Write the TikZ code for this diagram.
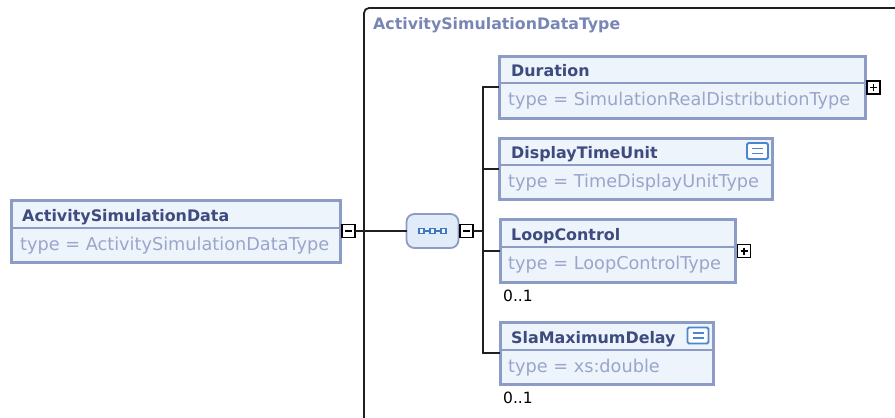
\documentclass[tikz,border=0pt]{standalone}
\usepackage{fontspec}
\setmainfont{DejaVu Sans}
\definecolor{boxedge}{HTML}{8D9CC7}
\definecolor{boxfill}{HTML}{EEF4FC}
\definecolor{namecol}{HTML}{3D4B7F}
\definecolor{typecol}{HTML}{9AA5C9}
\definecolor{ctcol}{HTML}{7886B5}
\definecolor{seqfill}{HTML}{E2ECF8}
\definecolor{dotcol}{HTML}{3D78C0}
\definecolor{docedge}{HTML}{4C86CC}
\definecolor{linecol}{HTML}{202020}
\tikzset{
  elbox/.style={draw=boxedge, fill=boxfill, line width=3pt, inner sep=0pt, outer sep=0pt, anchor=north west},
  divline/.style={draw=boxedge, line width=1.8pt},
  nametext/.style={font=\fontsize{15.9pt}{18pt}\selectfont\bfseries, text=namecol, anchor=base west, inner sep=0pt},
  typetext/.style={font=\fontsize{17.7pt}{20pt}\selectfont, text=typecol, anchor=base west, inner sep=0pt},
  multext/.style={font=\fontsize{15.5pt}{18pt}\selectfont, text=black, anchor=base west, inner sep=0pt},
  cttitle/.style={font=\fontsize{15.8pt}{18pt}\selectfont\bfseries, text=ctcol, anchor=base west, inner sep=0pt},
  conn/.style={draw=linecol, line width=2pt},
  cont/.style={draw=linecol, line width=1.8pt},
  togbase/.style={draw=black, fill=white, line width=1.8pt, minimum size=13pt, inner sep=0pt, outer sep=0pt},
  togminus/.style={togbase, path picture={
      \draw[line width=1.6pt] ([xshift=3.2pt]path picture bounding box.west) -- ([xshift=-3.2pt]path picture bounding box.east);}},
  togplus/.style={togbase, path picture={
      \draw[line width=1.6pt] ([xshift=3pt]path picture bounding box.west) -- ([xshift=-3pt]path picture bounding box.east);
      \draw[line width=1.6pt] ([yshift=-3pt]path picture bounding box.north) -- ([yshift=3pt]path picture bounding box.south);}},
  docicon/.style={draw=docedge, fill=white, line width=1.8pt, rounded corners=1.5pt, minimum width=21pt, minimum height=16pt, inner sep=0pt, outer sep=0pt,
    path picture={
      \draw[docedge, line width=1.4pt] ([xshift=5pt,yshift=2.5pt]path picture bounding box.west) -- ([xshift=-5pt,yshift=2.5pt]path picture bounding box.east);
      \draw[docedge, line width=1.4pt] ([xshift=5pt,yshift=-2.5pt]path picture bounding box.west) -- ([xshift=-5pt,yshift=-2.5pt]path picture bounding box.east);}},
  seqbox/.style={draw=boxedge, fill=seqfill, line width=1.8pt, rounded corners=8pt, minimum width=52pt, minimum height=34pt, inner sep=0pt, outer sep=0pt},
}
\begin{document}
\begin{tikzpicture}[x=1pt, y=-1pt]
\useasboundingbox (0,0) rectangle (895,418);

% complex type container
\draw[cont, rounded corners=5pt] (900,8) -- (364,8) -- (364,425);
\node[cttitle] (ctname) at (373,29) {ActivitySimulationDataType};

% root element
\node[elbox, minimum width=329pt, minimum height=62pt] (asd) at (11,200) {};
\draw[divline] (asd.north west) ++(0,28) -- ++(329,0);
\node[nametext] (asdname) at (22,221.5) {ActivitySimulationData};
\node[typetext] (asdtype) at (20,250.5) {type = ActivitySimulationDataType};
\node[togminus] (asdtog) at (348.5,231) {};

% sequence compositor
\node[seqbox] (seq) at (432.5,231) {};
\draw[dotcol, line width=1.3pt] ([xshift=-11pt]seq.center) -- ([xshift=11pt]seq.center);
\foreach \dx in {-11,0,11}
  \filldraw[fill=seqfill!60!white, draw=dotcol, line width=1.3pt] ([xshift=\dx pt]seq.center) ++(-2.5,-2.5) rectangle ++(5,5);
\node[togminus] (seqtog) at (466.5,231) {};
\coordinate (jn) at (483,231);

% child elements
\node[elbox, minimum width=366pt, minimum height=62pt] (dur) at (499,56) {};
\draw[divline] (dur.north west) ++(0,27) -- ++(366,0);
\node[nametext] (durname) at (511,76.5) {Duration};
\node[typetext] (durtype) at (508,105) {type = SimulationRealDistributionType};
\node[togplus] (durtog) at (873.5,87.5) {};

\node[elbox, minimum width=273pt, minimum height=61pt] (dtu) at (499,138) {};
\draw[divline] (dtu.north west) ++(0,27) -- ++(273,0);
\node[nametext] (dtuname) at (511,158.5) {DisplayTimeUnit};
\node[typetext] (dtutype) at (508,187) {type = TimeDisplayUnitType};
\node[docicon] (dtudoc) at (757.5,151) {};

\node[elbox, minimum width=235pt, minimum height=63pt] (loop) at (500,219) {};
\draw[divline] (loop.north west) ++(0,28) -- ++(235,0);
\node[nametext] (loopname) at (511,240.5) {LoopControl};
\node[typetext] (looptype) at (508,269) {type = LoopControlType};
\node[togplus] (looptog) at (744,251) {};
\node[multext] (loopmul) at (503,301) {0..1};

\node[elbox, minimum width=213pt, minimum height=62pt] (sla) at (500,322) {};
\draw[divline] (sla.north west) ++(0,28) -- ++(213,0);
\node[nametext] (slaname) at (511,343.5) {SlaMaximumDelay};
\node[typetext] (slatype) at (508,372) {type = xs:double};
\node[docicon] (sladoc) at (698,335.5) {};
\node[multext] (slamul) at (503,403) {0..1};

% connectors
\draw[conn] (asdtog.east) -- (seq.west);
\draw[conn] (seqtog.east) -- (jn);
\draw[conn] (dur.west) -- (dur.west -| jn) -- (sla.west -| jn) -- (sla.west);
\draw[conn] (dtu.west -| jn) -- (dtu.west);
\draw[conn] (loop.west -| jn) -- (loop.west);
\end{tikzpicture}
\end{document}
